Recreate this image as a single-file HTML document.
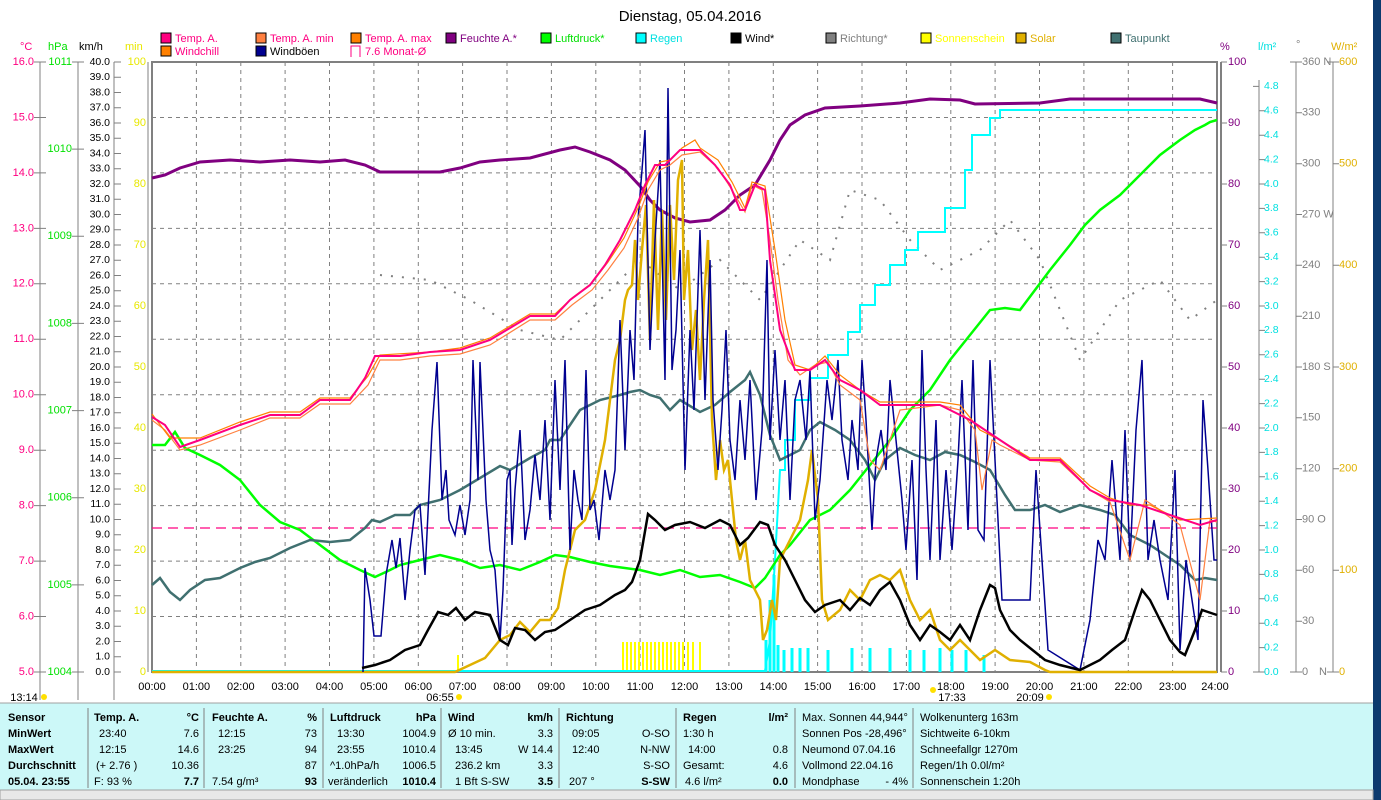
<!DOCTYPE html>
<html><head><meta charset="utf-8"><style>
html,body{margin:0;padding:0;background:#fff;width:1381px;height:800px;overflow:hidden;font-family:"Liberation Sans",sans-serif}
svg text{font-family:"Liberation Sans",sans-serif}
</style></head><body>
<svg width="1381" height="800" xmlns="http://www.w3.org/2000/svg" style="position:absolute;left:0;top:0">
<rect x="1373" y="0" width="8" height="800" fill="#0c3a6e"/>
<text x="690" y="21" font-size="15" text-anchor="middle">Dienstag, 05.04.2016</text>
<!-- legend -->
<g font-size="11">
<rect x="161" y="33" width="10" height="10" fill="#ff0080" stroke="#000"/><text x="175" y="42" fill="#ff0080">Temp. A.</text>
<rect x="256" y="33" width="10" height="10" fill="#ff8040" stroke="#000"/><text x="270" y="42" fill="#ff0080">Temp. A. min</text>
<rect x="351" y="33" width="10" height="10" fill="#ff8000" stroke="#000"/><text x="365" y="42" fill="#ff0080">Temp. A. max</text>
<rect x="446" y="33" width="10" height="10" fill="#800080" stroke="#000"/><text x="460" y="42" fill="#800080">Feuchte A.*</text>
<rect x="541" y="33" width="10" height="10" fill="#00ff00" stroke="#000"/><text x="555" y="42" fill="#00e000">Luftdruck*</text>
<rect x="636" y="33" width="10" height="10" fill="#00ffff" stroke="#000"/><text x="650" y="42" fill="#00e0e0">Regen</text>
<rect x="731" y="33" width="10" height="10" fill="#000" stroke="#000"/><text x="745" y="42">Wind*</text>
<rect x="826" y="33" width="10" height="10" fill="#808080" stroke="#000"/><text x="840" y="42" fill="#808080">Richtung*</text>
<rect x="921" y="33" width="10" height="10" fill="#ffff00" stroke="#000"/><text x="935" y="42" fill="#ffff00">Sonnenschein</text>
<rect x="1016" y="33" width="10" height="10" fill="#e0b000" stroke="#000"/><text x="1030" y="42" fill="#e0b000">Solar</text>
<rect x="1111" y="33" width="10" height="10" fill="#407070" stroke="#000"/><text x="1125" y="42" fill="#407070">Taupunkt</text>
<rect x="161" y="46" width="10" height="10" fill="#ff8000" stroke="#000"/><text x="175" y="55" fill="#ff0080">Windchill</text>
<rect x="256" y="46" width="10" height="10" fill="#000090" stroke="#000"/><text x="270" y="55">Windböen</text>
<path d="M351 57V46h9v11" fill="none" stroke="#ff0080"/><text x="365" y="55" fill="#ff0080">7.6 Monat-Ø</text>
<text x="20" y="50" fill="#ff0080">°C</text><text x="48" y="50" fill="#00e000">hPa</text><text x="79" y="50">km/h</text><text x="125" y="50" fill="#e8e800">min</text>
<text x="1220" y="50" fill="#800080">%</text><text x="1258" y="50" fill="#00e0e0">l/m²</text><text x="1296" y="48" fill="#808080">°</text><text x="1331" y="50" fill="#e0b000">W/m²</text>
</g>
<!-- grid -->
<g stroke="#808080" stroke-dasharray="4,4" stroke-width="1">
<path d="M152 117.5H1217M152 172.9H1217M152 228.4H1217M152 283.8H1217M152 339.3H1217M152 394.7H1217M152 450.2H1217M152 505.6H1217M152 561.1H1217M152 616.5H1217"/>
<path d="M196.4 62V672M240.8 62V672M285.1 62V672M329.5 62V672M373.9 62V672M418.3 62V672M462.6 62V672M507 62V672M551.4 62V672M595.8 62V672M640.1 62V672M684.5 62V672M728.9 62V672M773.3 62V672M817.6 62V672M862 62V672M906.4 62V672M950.8 62V672M995.1 62V672M1039.5 62V672M1083.9 62V672M1128.3 62V672M1172.6 62V672"/>
</g>
<rect x="152" y="62" width="1065" height="610" fill="none" stroke="#808080" stroke-width="2"/>
<line x1="1221" y1="62" x2="1221" y2="672" stroke="#808080" stroke-width="2"/>
<!-- left axes -->
<g stroke="#808080" fill="none">
<path d="M40 62V700M78 62V700M114 62V700M148 62V672"/>
<path d="M34 62h12M34 117.5h12M34 172.9h12M34 228.4h12M34 283.8h12M34 339.3h12M34 394.7h12M34 450.2h12M34 505.6h12M34 561.1h12M34 616.5h12M34 672h12"/>
<path d="M72 62h12M72 149.1h12M72 236.3h12M72 323.4h12M72 410.6h12M72 497.7h12M72 584.9h12M72 672h12"/>
<path d="M114 62h7M114 77.25h7M114 92.5h7M114 107.75h7M114 123h7M114 138.25h7M114 153.5h7M114 168.75h7M114 184h7M114 199.25h7M114 214.5h7M114 229.75h7M114 245h7M114 260.25h7M114 275.5h7M114 290.75h7M114 306h7M114 321.25h7M114 336.5h7M114 351.75h7M114 367h7M114 382.25h7M114 397.5h7M114 412.75h7M114 428h7M114 443.25h7M114 458.5h7M114 473.75h7M114 489h7M114 504.25h7M114 519.5h7M114 534.75h7M114 550h7M114 565.25h7M114 580.5h7M114 595.75h7M114 611h7M114 626.25h7M114 641.5h7M114 656.75h7M114 672h7"/>
<path d="M1221 62h6M1221 123h6M1221 184h6M1221 245h6M1221 306h6M1221 367h6M1221 428h6M1221 489h6M1221 550h6M1221 611h6M1221 672h6"/>
<path d="M1259 80V672M1296 62V672M1333 62V672"/>
<path d="M1253 86.4h6M1259 110.8h6M1259 135.2h6M1259 159.6h6M1259 184h6M1259 208.4h6M1259 232.8h6M1259 257.2h6M1259 281.6h6M1259 306h6M1259 330.4h6M1259 354.8h6M1259 379.2h6M1259 403.6h6M1259 428h6M1259 452.4h6M1259 476.8h6M1259 501.2h6M1259 525.6h6M1259 550h6M1259 574.4h6M1259 598.8h6M1259 623.2h6M1259 647.6h6M1253 672h12"/>
<path d="M1290 62h12M1296 112.8h6M1296 163.7h6M1296 214.5h6M1296 265.3h6M1296 316.2h6M1296 367h6M1296 417.8h6M1296 468.7h6M1296 519.5h6M1296 570.3h6M1296 621.2h6M1290 672h12"/>
<path d="M1327 62h12M1333 163.7h6M1333 265.3h6M1333 367h6M1333 468.7h6M1333 570.3h6M1327 672h12"/>
</g>
<g font-size="11" text-anchor="end" dominant-baseline="middle">
<g fill="#ff0080"><text x="34" y="62">16.0</text><text x="34" y="117.5">15.0</text><text x="34" y="172.9">14.0</text><text x="34" y="228.4">13.0</text><text x="34" y="283.8">12.0</text><text x="34" y="339.3">11.0</text><text x="34" y="394.7">10.0</text><text x="34" y="450.2">9.0</text><text x="34" y="505.6">8.0</text><text x="34" y="561.1">7.0</text><text x="34" y="616.5">6.0</text><text x="34" y="672">5.0</text></g>
<g fill="#00e000"><text x="72" y="62">1011</text><text x="72" y="149.1">1010</text><text x="72" y="236.3">1009</text><text x="72" y="323.4">1008</text><text x="72" y="410.6">1007</text><text x="72" y="497.7">1006</text><text x="72" y="584.9">1005</text><text x="72" y="672">1004</text></g>
<g fill="#000" font-size="10.5"><text x="110" y="62">40.0</text><text x="110" y="77.25">39.0</text><text x="110" y="92.5">38.0</text><text x="110" y="107.75">37.0</text><text x="110" y="123">36.0</text><text x="110" y="138.25">35.0</text><text x="110" y="153.5">34.0</text><text x="110" y="168.75">33.0</text><text x="110" y="184">32.0</text><text x="110" y="199.25">31.0</text><text x="110" y="214.5">30.0</text><text x="110" y="229.75">29.0</text><text x="110" y="245">28.0</text><text x="110" y="260.25">27.0</text><text x="110" y="275.5">26.0</text><text x="110" y="290.75">25.0</text><text x="110" y="306">24.0</text><text x="110" y="321.25">23.0</text><text x="110" y="336.5">22.0</text><text x="110" y="351.75">21.0</text><text x="110" y="367">20.0</text><text x="110" y="382.25">19.0</text><text x="110" y="397.5">18.0</text><text x="110" y="412.75">17.0</text><text x="110" y="428">16.0</text><text x="110" y="443.25">15.0</text><text x="110" y="458.5">14.0</text><text x="110" y="473.75">13.0</text><text x="110" y="489">12.0</text><text x="110" y="504.25">11.0</text><text x="110" y="519.5">10.0</text><text x="110" y="534.75">9.0</text><text x="110" y="550">8.0</text><text x="110" y="565.25">7.0</text><text x="110" y="580.5">6.0</text><text x="110" y="595.75">5.0</text><text x="110" y="611">4.0</text><text x="110" y="626.25">3.0</text><text x="110" y="641.5">2.0</text><text x="110" y="656.75">1.0</text><text x="110" y="672">0.0</text></g>
<g fill="#e8e800"><text x="146" y="62">100</text><text x="146" y="123">90</text><text x="146" y="184">80</text><text x="146" y="245">70</text><text x="146" y="306">60</text><text x="146" y="367">50</text><text x="146" y="428">40</text><text x="146" y="489">30</text><text x="146" y="550">20</text><text x="146" y="611">10</text><text x="146" y="672">0</text></g>
</g>
<g font-size="11" dominant-baseline="middle">
<g fill="#800080"><text x="1228" y="62">100</text><text x="1228" y="123">90</text><text x="1228" y="184">80</text><text x="1228" y="245">70</text><text x="1228" y="306">60</text><text x="1228" y="367">50</text><text x="1228" y="428">40</text><text x="1228" y="489">30</text><text x="1228" y="550">20</text><text x="1228" y="611">10</text><text x="1228" y="672">0</text></g>
<g fill="#00e0e0" font-size="10.5"><text x="1264" y="86.4">4.8</text><text x="1264" y="110.8">4.6</text><text x="1264" y="135.2">4.4</text><text x="1264" y="159.6">4.2</text><text x="1264" y="184">4.0</text><text x="1264" y="208.4">3.8</text><text x="1264" y="232.8">3.6</text><text x="1264" y="257.2">3.4</text><text x="1264" y="281.6">3.2</text><text x="1264" y="306">3.0</text><text x="1264" y="330.4">2.8</text><text x="1264" y="354.8">2.6</text><text x="1264" y="379.2">2.4</text><text x="1264" y="403.6">2.2</text><text x="1264" y="428">2.0</text><text x="1264" y="452.4">1.8</text><text x="1264" y="476.8">1.6</text><text x="1264" y="501.2">1.4</text><text x="1264" y="525.6">1.2</text><text x="1264" y="550">1.0</text><text x="1264" y="574.4">0.8</text><text x="1264" y="598.8">0.6</text><text x="1264" y="623.2">0.4</text><text x="1264" y="647.6">0.2</text><text x="1264" y="672">0.0</text></g>
<g fill="#808080"><text x="1302" y="62">360 N</text><text x="1302" y="112.8">330</text><text x="1302" y="163.7">300</text><text x="1302" y="214.5">270 W</text><text x="1302" y="265.3">240</text><text x="1302" y="316.2">210</text><text x="1302" y="367">180 S</text><text x="1302" y="417.8">150</text><text x="1302" y="468.7">120</text><text x="1302" y="519.5">90  O</text><text x="1302" y="570.3">60</text><text x="1302" y="621.2">30</text><text x="1302" y="672">0</text><text x="1319" y="672">N</text></g>
<g fill="#e0b000"><text x="1339" y="62">600</text><text x="1339" y="163.7">500</text><text x="1339" y="265.3">400</text><text x="1339" y="367">300</text><text x="1339" y="468.7">200</text><text x="1339" y="570.3">100</text><text x="1339" y="672">0</text></g>
</g>
<!-- x labels -->
<g font-size="11" text-anchor="middle">
<text x="152" y="690">00:00</text><text x="196.4" y="690">01:00</text><text x="240.8" y="690">02:00</text><text x="285.1" y="690">03:00</text><text x="329.5" y="690">04:00</text><text x="373.9" y="690">05:00</text><text x="418.3" y="690">06:00</text><text x="462.6" y="690">07:00</text><text x="507" y="690">08:00</text><text x="551.4" y="690">09:00</text><text x="595.8" y="690">10:00</text><text x="640.1" y="690">11:00</text><text x="684.5" y="690">12:00</text><text x="728.9" y="690">13:00</text><text x="773.3" y="690">14:00</text><text x="817.6" y="690">15:00</text><text x="862" y="690">16:00</text><text x="906.4" y="690">17:00</text><text x="950.8" y="690">18:00</text><text x="995.1" y="690">19:00</text><text x="1039.5" y="690">20:00</text><text x="1083.9" y="690">21:00</text><text x="1128.3" y="690">22:00</text><text x="1172.6" y="690">23:00</text><text x="1215" y="690">24:00</text>
<text x="440" y="701">06:55</text><text x="952" y="701">17:33</text><text x="1030" y="701">20:09</text><text x="24" y="701">13:14</text>
</g>
<circle cx="44" cy="697" r="3" fill="#ffe000"/><circle cx="459" cy="697" r="3" fill="#ffe000"/><circle cx="1049" cy="697" r="3" fill="#ffe000"/><circle cx="933" cy="690" r="3" fill="#ffe000"/>
<!-- direction dots -->
<g fill="none" stroke="#808080" stroke-width="2" stroke-dasharray="2,9">
<path d="M380 275L430 280L470 300L520 330L560 340L600 300L640 260L680 290L720 260L760 300L800 240L830 260L850 190L880 200L910 240L940 270L980 250L1010 220L1040 260L1080 360L1120 300L1160 280L1190 320L1217 300"/>
</g>
<!-- sunshine bars -->
<g stroke="#ffff00" stroke-width="2"><path d="M623 642V672M627 642V672M631 642V672M635 642V672M639 642V672M643 642V672M647 642V672M651 642V672M655 642V672M659 642V672M663 642V672M667 642V672M671 642V672M675 642V672M679 642V672M683 642V672M688 642V672M693 642V672M700 642V672M458 655V672"/></g>
<g stroke="#00ffff" stroke-width="3"><path d="M766 672V640M770 672V600M774 672V575M778 672V645M784 672V650M792 672V648M800 672V648M808 672V648M828 672V650M852 672V648M870 672V648M890 672V648M910 672V650M924 672V650M940 672V648M952 672V650M966 672V650M984 672V655"/></g>
<!-- dashed month avg -->
<line x1="152" y1="528" x2="1217" y2="528" stroke="#ff0080" stroke-dasharray="10,6" stroke-width="1.2"/>
<!-- rain -->
<polyline fill="none" stroke="#00ffff" stroke-width="2" points="152,671 765,671 770,640 775,560 780,470 785,470 785,440 795,440 795,400 810,400 810,378 828,378 828,355 848,355 848,332 860,332 860,305 875,305 875,285 890,285 890,265 905,265 905,250 918,250 918,232 945,232 945,208 965,208 965,170 972,170 972,135 990,135 990,118 1000,118 1000,110 1217,110"/>
<!-- pressure -->
<polyline fill="none" stroke="#00ff00" stroke-width="2.5" points="152,445 165,445 175,432 185,448 200,455 220,465 240,480 260,505 280,522 300,530 320,545 340,560 360,570 375,577 390,570 400,565 420,560 440,555 460,560 480,568 500,565 520,570 540,562 555,555 570,557 590,562 610,566 640,570 660,575 680,570 700,577 720,575 740,582 755,588 765,578 780,555 790,545 810,520 830,510 850,490 870,465 890,440 910,410 930,390 950,360 970,335 990,310 1005,308 1020,310 1035,290 1050,270 1070,245 1085,225 1100,210 1120,195 1140,175 1160,155 1180,140 1195,130 1205,125 1210,122 1217,120"/>
<!-- dew point -->
<polyline fill="none" stroke="#407070" stroke-width="2.5" points="152,585 160,578 170,592 180,600 190,590 205,580 220,578 240,568 255,562 270,558 290,548 310,540 330,542 350,540 365,528 372,520 380,522 395,515 410,515 420,505 440,500 460,490 480,478 500,466 510,470 530,458 545,450 550,440 560,440 570,425 580,410 600,400 620,395 630,392 640,390 650,395 660,398 670,410 680,400 700,412 715,405 730,392 745,380 750,372 760,395 770,435 780,460 790,455 800,450 810,430 820,422 835,430 850,440 865,460 875,480 885,460 900,448 915,455 930,460 945,452 960,455 975,462 990,470 1005,495 1015,510 1030,510 1045,505 1060,512 1080,505 1100,510 1115,515 1130,535 1150,545 1165,555 1180,565 1195,580 1205,578 1217,580"/>
<!-- humidity -->
<polyline fill="none" stroke="#800080" stroke-width="3" points="152,178 165,175 180,168 200,162 230,160 260,162 290,160 320,162 345,160 365,165 380,172 440,172 460,168 480,162 500,160 530,158 560,150 575,147 590,152 610,160 625,170 640,186 650,200 660,210 675,218 690,222 710,220 725,210 740,195 755,185 770,160 780,140 790,125 805,115 825,108 860,106 900,103 930,99 960,100 975,104 1040,103 1070,99 1200,99 1217,103"/>
<!-- solar -->
<polyline fill="none" stroke="#e0b000" stroke-width="2.5" points="152,672 455,672 470,665 485,658 500,640 510,635 520,622 530,632 540,620 550,620 558,608 565,570 575,530 585,520 595,490 605,440 610,400 615,360 620,340 625,300 628,290 632,285 635,240 638,300 642,250 646,205 650,340 654,200 658,330 662,210 666,320 670,205 674,280 678,180 682,160 684,300 688,250 692,350 696,310 700,380 704,300 708,240 712,420 716,480 720,440 724,470 728,460 732,500 736,540 740,560 745,540 750,580 755,590 760,600 763,640 767,630 772,600 776,620 780,560 790,540 800,520 808,480 812,450 818,500 822,600 828,620 840,610 850,590 860,600 870,580 880,575 890,580 900,570 910,600 920,620 930,610 940,640 950,650 960,640 970,650 980,660 995,650 1010,660 1030,662 1045,670 1050,672 1217,672"/>
<!-- gusts -->
<polyline fill="none" stroke="#000090" stroke-width="1.5" points="363,672 365,568 370,600 374,636 381,636 386,575 392,540 396,568 400,538 405,600 410,550 415,510 420,505 425,575 432,430 437,362 442,500 446,470 449,520 455,535 460,505 465,535 470,500 473,360 478,480 480,362 486,500 490,550 495,570 500,640 503,590 507,480 510,470 512,545 515,490 520,430 525,540 530,510 535,455 540,500 545,420 550,520 555,380 560,490 565,360 570,550 574,470 578,500 582,520 586,370 590,510 594,500 599,540 605,470 610,500 615,470 620,320 625,450 630,330 634,380 638,220 642,170 645,130 650,350 655,240 660,160 665,380 668,88 672,370 676,330 680,250 685,470 690,330 694,410 700,230 705,400 710,260 713,400 718,470 722,410 726,330 730,440 735,480 740,400 745,460 750,380 756,500 762,430 767,260 770,440 775,350 780,440 785,380 790,500 795,400 800,380 806,440 810,370 815,520 820,480 827,380 832,420 838,360 842,440 848,480 852,420 858,470 862,360 866,420 872,530 876,460 881,430 886,470 890,380 896,440 902,500 906,550 912,460 917,580 922,350 926,470 930,560 936,420 940,560 946,470 952,550 958,460 962,380 968,530 973,360 978,530 984,540 990,360 996,480 1002,600 1030,600 1036,470 1042,560 1048,650 1080,670 1090,620 1098,540 1105,560 1112,460 1120,560 1125,430 1130,560 1136,430 1142,360 1148,560 1154,520 1160,560 1168,600 1175,470 1180,650 1186,560 1192,600 1198,640 1203,400 1208,470 1214,560 1217,560"/>
<!-- wind -->
<polyline fill="none" stroke="#000" stroke-width="2.5" points="362,668 375,665 390,660 405,650 420,645 428,630 438,612 448,615 456,608 465,620 475,612 490,615 500,640 508,645 515,628 525,630 535,640 545,632 555,630 570,620 585,610 600,605 615,595 625,590 632,582 640,560 648,514 655,520 665,530 675,525 690,522 705,528 720,520 730,525 740,545 748,538 760,522 768,525 775,545 785,560 795,580 805,600 815,612 825,605 840,600 850,610 860,598 870,605 880,590 890,582 900,600 910,625 920,640 930,625 940,632 950,640 960,625 970,640 980,610 990,585 995,588 1000,610 1010,630 1020,640 1030,648 1045,660 1060,665 1080,670 1090,665 1100,660 1112,650 1125,640 1135,610 1142,590 1150,600 1160,620 1170,640 1180,652 1185,655 1195,630 1202,610 1208,612 1217,615"/>
<!-- temperatures -->
<polyline fill="none" stroke="#ff8040" stroke-width="1.2" points="152,420 165,430 180,450 200,445 240,430 270,418 300,418 320,404 350,404 368,385 380,360 400,360 430,356 460,354 490,345 530,320 555,320 572,305 592,290 608,270 624,248 638,218 648,190 660,170 670,165 682,155 700,152 718,168 732,190 745,212 752,185 762,190 770,240 778,300 788,360 800,375 815,365 828,362 840,385 860,400 870,460 880,470 890,440 900,410 940,405 960,410 975,430 982,490 992,440 1000,445 1030,460 1060,462 1090,490 1110,502 1130,560 1145,500 1160,510 1180,525 1200,600 1210,520 1217,522"/>
<polyline fill="none" stroke="#ff8000" stroke-width="1.2" points="152,414 170,438 200,438 240,422 270,412 300,412 320,398 350,398 368,376 380,355 430,352 460,348 490,338 530,314 555,314 572,298 592,283 608,262 624,238 638,208 648,182 660,162 670,160 682,148 695,140 700,148 718,160 732,182 745,208 752,182 765,186 775,250 785,320 795,365 810,370 825,356 840,375 860,390 880,402 900,402 940,402 960,405 980,430 1000,440 1030,458 1060,458 1090,486 1110,498 1130,505 1150,505 1180,520 1217,518"/>
<polyline fill="none" stroke="#ff0080" stroke-width="2" points="152,417 165,425 180,447 200,440 240,425 270,415 300,415 320,400 350,400 365,378 375,356 400,356 430,352 460,350 490,340 530,316 555,316 570,300 590,285 605,265 620,240 635,210 645,185 655,165 665,165 680,150 700,150 715,165 730,185 740,210 745,210 755,185 765,190 770,260 780,330 795,370 810,370 825,360 840,380 860,390 880,405 900,405 940,405 970,420 1000,440 1030,460 1060,460 1090,490 1110,500 1140,505 1170,515 1200,525 1217,520"/>
<!-- bottom panel -->
<rect x="0" y="703" width="1373" height="87" fill="#ccf8f8"/>
<line x1="0" y1="703" x2="1373" y2="703" stroke="#a0a0a0"/>
<rect x="0" y="790" width="1373" height="10" fill="#e8e8e8" stroke="#a0a0a0"/>
<g stroke="#808080"><path d="M88 708V788M204 708V788M323 708V788M441 708V788M559 708V788M676 708V788M795 708V788M913 708V788"/></g>
<g font-size="11">
<g font-weight="bold"><text x="8" y="721">Sensor</text><text x="8" y="737">MinWert</text><text x="8" y="753">MaxWert</text><text x="8" y="769">Durchschnitt</text><text x="8" y="785">05.04. 23:55</text>
<text x="94" y="721">Temp. A.</text><text x="212" y="721">Feuchte A.</text><text x="330" y="721">Luftdruck</text><text x="448" y="721">Wind</text><text x="566" y="721">Richtung</text><text x="683" y="721">Regen</text></g>
<g text-anchor="end" font-weight="bold"><text x="199" y="721">°C</text><text x="317" y="721">%</text><text x="436" y="721">hPa</text><text x="553" y="721">km/h</text><text x="788" y="721">l/m²</text>
<text x="199" y="785">7.7</text><text x="317" y="785">93</text><text x="436" y="785">1010.4</text><text x="553" y="785">3.5</text><text x="670" y="785">S-SW</text><text x="788" y="785">0.0</text></g>
<text x="99" y="737">23:40</text><text x="99" y="753">12:15</text><text x="96" y="769">(+ 2.76 )</text><text x="94" y="785">F: 93 %</text>
<g text-anchor="end"><text x="199" y="737">7.6</text><text x="199" y="753">14.6</text><text x="199" y="769">10.36</text>
<text x="317" y="737">73</text><text x="317" y="753">94</text><text x="317" y="769">87</text>
<text x="436" y="737">1004.9</text><text x="436" y="753">1010.4</text><text x="436" y="769">1006.5</text>
<text x="553" y="737">3.3</text><text x="553" y="753">W 14.4</text><text x="553" y="769">3.3</text>
<text x="670" y="737">O-SO</text><text x="670" y="753">N-NW</text><text x="670" y="769">S-SO</text>
<text x="788" y="753">0.8</text><text x="788" y="769">4.6</text></g>
<text x="218" y="737">12:15</text><text x="218" y="753">23:25</text><text x="212" y="785">7.54 g/m³</text>
<text x="337" y="737">13:30</text><text x="337" y="753">23:55</text><text x="330" y="769">^1.0hPa/h</text><text x="328" y="785">veränderlich</text>
<text x="448" y="737">Ø 10 min.</text><text x="455" y="753">13:45</text><text x="455" y="769">236.2 km</text><text x="455" y="785">1 Bft S-SW</text>
<text x="572" y="737">09:05</text><text x="572" y="753">12:40</text><text x="569" y="785">207 °</text>
<text x="683" y="737">1:30 h</text><text x="688" y="753">14:00</text><text x="683" y="769">Gesamt:</text><text x="685" y="785">4.6 l/m²</text>
<text x="802" y="721">Max. Sonnen 44,944°</text><text x="802" y="737">Sonnen Pos  -28,496°</text><text x="802" y="753">Neumond    07.04.16</text><text x="802" y="769">Vollmond    22.04.16</text><text x="802" y="785">Mondphase</text><text x="908" y="785" text-anchor="end">- 4%</text>
<text x="920" y="721">Wolkenunterg  163m</text><text x="920" y="737">Sichtweite     6-10km</text><text x="920" y="753">Schneefallgr  1270m</text><text x="920" y="769">Regen/1h     0.0l/m²</text><text x="920" y="785">Sonnenschein  1:20h</text>
</g>
</svg>
</body></html>
